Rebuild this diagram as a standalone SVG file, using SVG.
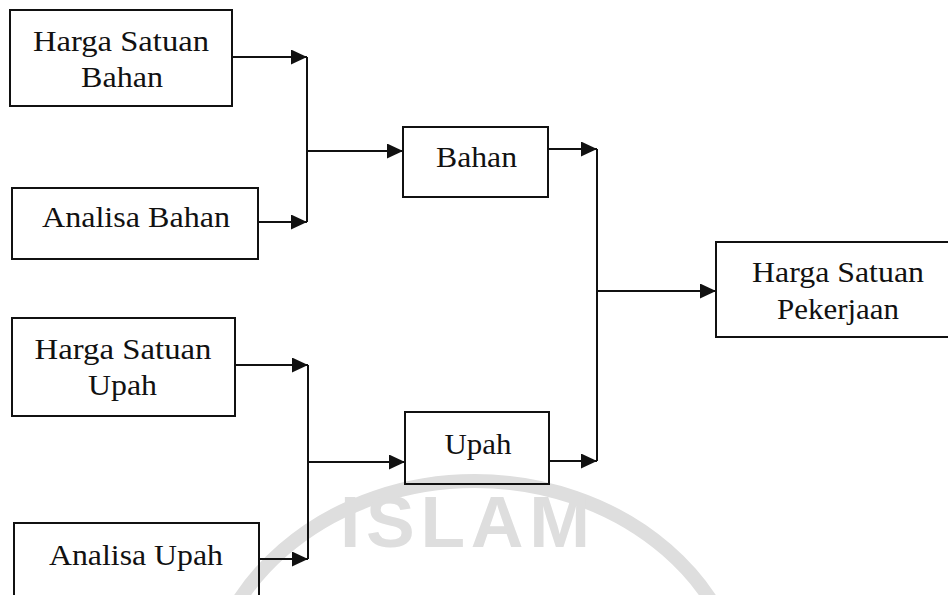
<svg xmlns="http://www.w3.org/2000/svg" width="948" height="595" viewBox="0 0 948 595">
<style>
.box{fill:none;stroke:#111;stroke-width:2}
.lbl{font-family:"Liberation Serif","Times New Roman",serif;font-size:28.5px;fill:#111;text-anchor:middle}
.ln{fill:none;stroke:#111;stroke-width:2}
.wm{fill:none;stroke:#dedede;stroke-width:14}
.wmt{font-family:"Liberation Sans",Arial,sans-serif;font-weight:bold;font-size:73px;fill:#dedede}
</style>
<defs>
<marker id="ah" markerUnits="userSpaceOnUse" markerWidth="17" markerHeight="15" refX="16" refY="7.5" orient="auto">
<path d="M0,0 L16,7.5 L0,15 z" fill="#111"/>
</marker>
</defs>
<rect width="948" height="595" fill="#fff"/>
<g id="watermark">
<ellipse class="wm" cx="475" cy="716" rx="271" ry="235"/>
<text class="wmt" x="340" y="547" textLength="250" lengthAdjust="spacing">ISLAM</text>
</g>
<g id="connectors">
<path class="ln" d="M232,57 H307" marker-end="url(#ah)"/>
<path class="ln" d="M258,222 H307" marker-end="url(#ah)"/>
<path class="ln" d="M307,57 V222"/>
<path class="ln" d="M307,151 H403" marker-end="url(#ah)"/>
<path class="ln" d="M235,365 H308" marker-end="url(#ah)"/>
<path class="ln" d="M259,559 H308" marker-end="url(#ah)"/>
<path class="ln" d="M308,365 V559"/>
<path class="ln" d="M308,462 H405" marker-end="url(#ah)"/>
<path class="ln" d="M548,149 H597" marker-end="url(#ah)"/>
<path class="ln" d="M549,461 H597" marker-end="url(#ah)"/>
<path class="ln" d="M597,149 V461"/>
<path class="ln" d="M597,291 H716" marker-end="url(#ah)"/>
</g>
<g id="harga-satuan-bahan">
<rect class="box" x="10" y="10" width="222" height="96"/>
<text class="lbl" x="121" y="51" textLength="176" lengthAdjust="spacingAndGlyphs">Harga Satuan</text>
<text class="lbl" x="122" y="87" textLength="82" lengthAdjust="spacingAndGlyphs">Bahan</text>
</g>
<g id="analisa-bahan">
<rect class="box" x="12" y="188" width="246" height="71"/>
<text class="lbl" x="136" y="227" textLength="188" lengthAdjust="spacingAndGlyphs">Analisa Bahan</text>
</g>
<g id="harga-satuan-upah">
<rect class="box" x="12" y="318" width="223" height="98"/>
<text class="lbl" x="123" y="359" textLength="177" lengthAdjust="spacingAndGlyphs">Harga Satuan</text>
<text class="lbl" x="122.5" y="395" textLength="69" lengthAdjust="spacingAndGlyphs">Upah</text>
</g>
<g id="analisa-upah">
<rect class="box" x="14" y="523" width="245" height="85"/>
<text class="lbl" x="136" y="565" textLength="174" lengthAdjust="spacingAndGlyphs">Analisa Upah</text>
</g>
<g id="bahan">
<rect class="box" x="403" y="127" width="145" height="70"/>
<text class="lbl" x="476.5" y="167" textLength="81" lengthAdjust="spacingAndGlyphs">Bahan</text>
</g>
<g id="upah">
<rect class="box" x="405" y="412" width="144" height="72"/>
<text class="lbl" x="478" y="454" textLength="67" lengthAdjust="spacingAndGlyphs">Upah</text>
</g>
<g id="harga-satuan-pekerjaan">
<rect class="box" x="716" y="242" width="250" height="95"/>
<text class="lbl" x="838" y="282" textLength="172" lengthAdjust="spacingAndGlyphs">Harga Satuan</text>
<text class="lbl" x="838" y="319" textLength="122" lengthAdjust="spacingAndGlyphs">Pekerjaan</text>
</g>
</svg>
